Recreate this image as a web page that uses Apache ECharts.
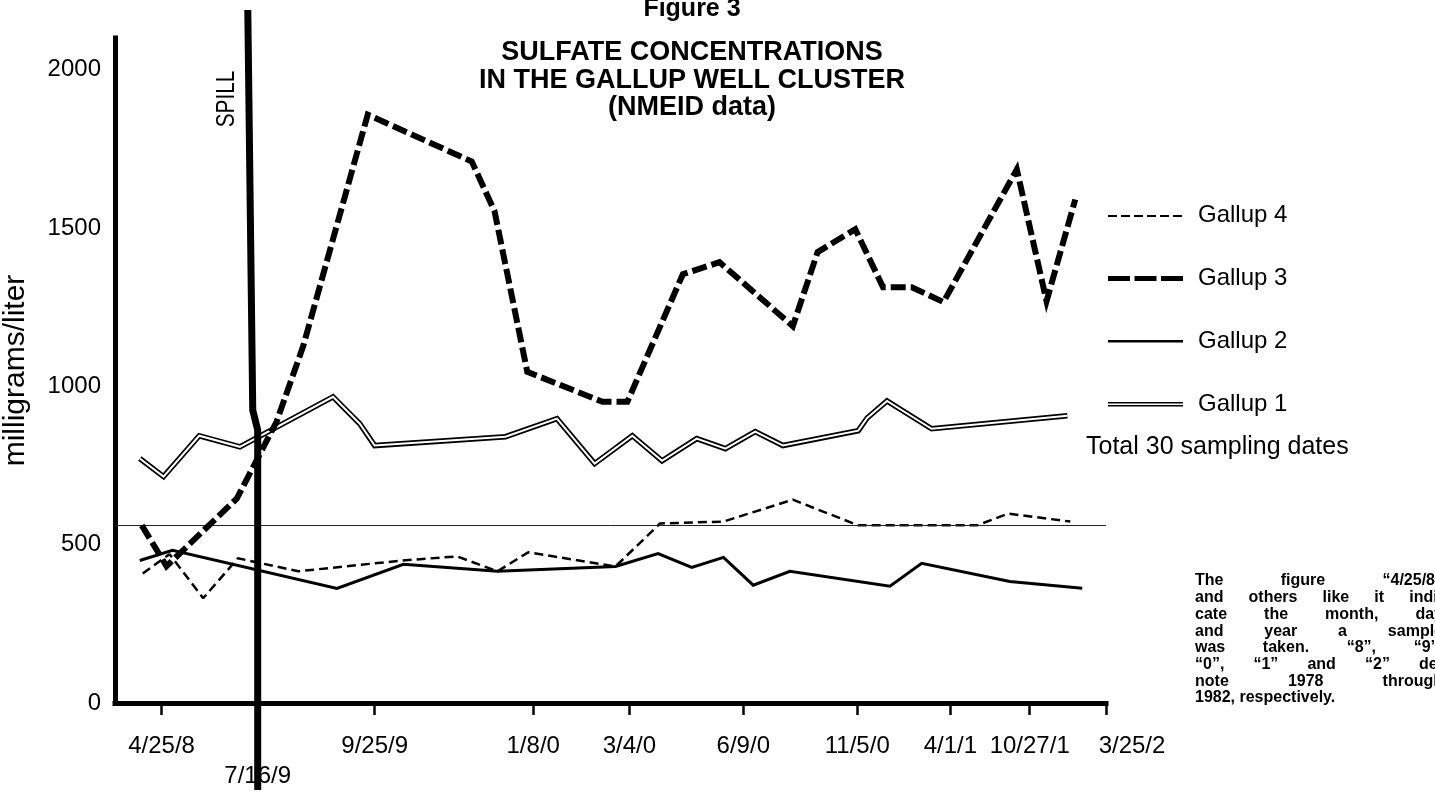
<!DOCTYPE html>
<html><head><meta charset="utf-8">
<script src="https://cdn.jsdelivr.net/npm/echarts@6/dist/echarts.min.js"></script>
<style>html,body{margin:0;padding:0;background:#fff}#c{width:1435px;height:796px}</style>
</head><body><div id="c"></div>
<script>
// x positions are in "axis units" (0 = y axis, 100 = right end of x axis)
const tickPositions = [4.7, 14.4, 26.2, 42.2, 51.9, 63.4, 74.9, 84.3, 92.3, 100];
const tickLabels = ['4/25/8', '7/16/9', '9/25/9', '1/8/0', '3/4/0', '6/9/0', '11/5/0', '4/1/1', '10/27/1', '3/25/2'];
const yTicks = [0, 500, 1000, 1500, 2000];

const gallup1 = [[2.5,772],[4.9,715],[8.5,844],[12.6,809],[22.0,967],[24.7,882],[26.2,813],[39.4,841],[44.6,898],[48.4,756],[52.2,844],[55.2,765],[58.7,835],[61.6,803],[64.6,857],[67.4,813],[75.0,860],[75.9,900],[77.9,954],[82.4,866],[96.1,907]];
const gallup2 = [[2.5,450],[5.8,482],[22.4,362],[29.1,438],[38.6,416],[50.5,431],[54.8,472],[58.2,428],[61.4,460],[64.4,372],[68.1,416],[78.2,369],[81.4,441],[90.3,384],[97.6,362]];
const gallup3 = [[2.7,561],[5.2,432],[12.3,646],[16.3,888],[19.0,1128],[25.5,1858],[36.0,1710],[38.3,1553],[41.6,1046],[49.2,951],[51.7,951],[57.3,1354],[61.0,1392],[68.4,1190],[70.9,1424],[74.7,1496],[77.5,1313],[80.4,1313],[83.6,1266],[91.0,1685],[94.0,1269],[96.9,1590]];
const gallup4 = [[2.8,409],[5.5,470],[8.9,331],[12.4,457],[18.5,416],[29.0,450],[34.5,463],[38.6,416],[41.7,476],[50.5,431],[55.0,567],[61.4,573],[68.4,642],[75.0,561],[87.0,561],[90.1,598],[96.4,573]];
const spillX = 14.4;
const spillLine = [[13.4,1],[13.9,0.487],[spillX,0.4615],[spillX,0]];
const scanLineValue = 560;

const annotation = [
  'The figure \u201c4/25/8\u201d',
  'and others like it indi-',
  'cate the month, day',
  'and year a sample',
  'was taken. \u201c8\u201d, \u201c9\u201d,',
  '\u201c0\u201d, \u201c1\u201d and \u201c2\u201d de-',
  'note 1978 through',
  '1982, respectively.'
];

const FF = '"Liberation Sans", Arial, Helvetica, sans-serif';
const chart = echarts.init(document.getElementById('c'), null, {renderer: 'canvas'});

// justified paragraph (each word placed as real text)
const noteFont = 'bold 16px ' + FF;
const noteLeft = 1195, noteWidth = 248, noteTop = 581, notePitch = 16.7;
const mctx = document.createElement('canvas').getContext('2d');
mctx.font = noteFont;
const noteGraphics = [];
annotation.forEach(function (line, i) {
  const words = line.split(' ');
  const widths = words.map(function (w) { return mctx.measureText(w).width; });
  const total = widths.reduce(function (a, b) { return a + b; }, 0);
  const last = i === annotation.length - 1;
  const gap = (last || words.length < 2) ? mctx.measureText(' ').width : (noteWidth - total) / (words.length - 1);
  let x = noteLeft;
  words.forEach(function (w, k) {
    noteGraphics.push({type: 'text', x: x, y: noteTop + i * notePitch, silent: true,
      style: {text: w, font: noteFont, fill: '#000', align: 'left', verticalAlign: 'middle'}});
    x += widths[k] + gap;
  });
});

chart.setOption({
  animation: false,
  backgroundColor: '#fff',
  textStyle: {fontFamily: FF, color: '#000'},
  grid: [
    {left: 115, right: 329, top: 38, bottom: 93, containLabel: false, outerBoundsMode: 'none'},
    {left: 115, right: 329, top: 10, bottom: 6, containLabel: false, outerBoundsMode: 'none'}
  ],
  legend: {
    orient: 'vertical', left: 1103, top: 198, itemWidth: 75, itemHeight: 8, itemGap: 39,
    selectedMode: false,
    itemStyle: {borderWidth: 0},
    textStyle: {fontSize: 24, color: '#000', fontFamily: FF, padding: [0, 0, 0, 10]},
    data: [
      {name: 'Gallup 4', icon: 'path://M0,0M75,8M0,4h9v2h-9z M13,4h9v2h-9z M26,4h9v2h-9z M39,4h9v2h-9z M52,4h9v2h-9z M65,4h9v2h-9z'},
      {name: 'Gallup 3', icon: 'path://M0,0M75,8M0,2h22v5h-22z M26.5,2h22v5h-22z M53,2h22v5h-22z'},
      {name: 'Gallup 2', icon: 'path://M0,0M75,8M0,3h75v2.5h-75z'},
      {name: 'Gallup 1', icon: 'path://M0,0M75,8M0,2h75v1.6h-75z M0,5h75v1.6h-75z'}
    ]
  },
  xAxis: [
    {
      type: 'value', min: 0, max: 100, gridIndex: 0,
      axisLine: {show: true, onZero: false, lineStyle: {color: '#000', width: 5, cap: 'square'}},
      axisTick: {show: true, customValues: tickPositions, length: 12, lineStyle: {color: '#000', width: 2.5}},
      splitLine: {show: false},
      axisLabel: {
        customValues: tickPositions, margin: 31, fontSize: 24, color: '#000', fontFamily: FF,
        formatter: function (v) {
          let i = -1;
          tickPositions.forEach(function (p, k) { if (Math.abs(p - v) < 1e-6) i = k; });
          if (i < 0) return '';
          const t = tickLabels[i];
          if (i === 1) return '{low|' + t + '}';
          if (i === tickLabels.length - 1) return '{r|' + t + '}';
          return t;
        },
        rich: {
          low: {fontSize: 24, fontFamily: FF, color: '#000', padding: [30, 0, 0, 0]},
          r: {fontSize: 24, fontFamily: FF, color: '#000', padding: [0, 0, 0, 52]}
        }
      }
    },
    {type: 'value', min: 0, max: 100, gridIndex: 1, show: false}
  ],
  yAxis: [
    {
      type: 'value', min: 0, max: 2100, interval: 500, gridIndex: 0,
      axisLine: {show: true, lineStyle: {color: '#000', width: 5, cap: 'square'}},
      axisTick: {show: false}, splitLine: {show: false},
      axisLabel: {
        margin: 14, fontSize: 24, color: '#000', fontFamily: FF,
        formatter: function (v) { return yTicks.indexOf(v) >= 0 ? String(v) : ''; }
      },
      name: 'milligrams/liter', nameLocation: 'middle', nameGap: 84,
      nameTextStyle: {fontSize: 30, color: '#000', fontFamily: FF}
    },
    {type: 'value', min: 0, max: 1, gridIndex: 1, show: false}
  ],
  series: [
    {
      name: 'Gallup 2', type: 'line', data: gallup2, symbol: 'none', silent: true,
      lineStyle: {color: '#000', width: 3, join: 'miter'}, itemStyle: {color: '#000'}, z: 2,
      markLine: {
        silent: true, symbol: 'none', label: {show: false},
        lineStyle: {color: '#222', width: 1, type: 'solid'},
        data: [{yAxis: scanLineValue}]
      }
    },
    {
      name: 'Gallup 4', type: 'line', data: gallup4, symbol: 'none', silent: true,
      lineStyle: {color: '#000', width: 2.5, type: [9, 5], cap: 'butt'}, itemStyle: {color: '#000'}, z: 2
    },
    {
      name: 'Gallup 1', type: 'line', data: gallup1, symbol: 'none', silent: true,
      lineStyle: {color: '#000', width: 5.5, join: 'miter'}, itemStyle: {color: '#000'}, z: 3
    },
    {
      name: 'Gallup 1 inner', type: 'line', data: gallup1, symbol: 'none', silent: true,
      lineStyle: {color: '#fff', width: 2, join: 'miter'}, itemStyle: {color: '#fff'}, z: 4
    },
    {
      name: 'Gallup 3', type: 'line', data: gallup3, symbol: 'none', silent: true,
      lineStyle: {color: '#000', width: 6, type: [15, 5], cap: 'butt', join: 'miter'}, itemStyle: {color: '#000'}, z: 5
    },
    {
      name: 'spill', type: 'line', xAxisIndex: 1, yAxisIndex: 1, data: spillLine, symbol: 'none', clip: false, silent: true,
      lineStyle: {color: '#000', width: 7}, z: 6
    }
  ],
  graphic: [
    {type: 'text', x: 692, y: 9, style: {text: 'Figure 3', font: 'bold 25px ' + FF, fill: '#000', align: 'center', verticalAlign: 'middle'}},
    {type: 'text', x: 692, y: 53, style: {text: 'SULFATE CONCENTRATIONS', font: 'bold 27px ' + FF, fill: '#000', align: 'center', verticalAlign: 'middle'}},
    {type: 'text', x: 692, y: 81, style: {text: 'IN THE GALLUP WELL CLUSTER', font: 'bold 27px ' + FF, fill: '#000', align: 'center', verticalAlign: 'middle'}},
    {type: 'text', x: 692, y: 108, style: {text: '(NMEID data)', font: 'bold 27px ' + FF, fill: '#000', align: 'center', verticalAlign: 'middle'}},
    {type: 'text', x: 227, y: 99, rotation: Math.PI / 2, scaleX: 0.8, style: {text: 'SPILL', font: '26px ' + FF, fill: '#000', align: 'center', verticalAlign: 'middle'}},
    {type: 'text', x: 1086, y: 447, style: {text: 'Total 30 sampling dates', font: '25px ' + FF, fill: '#000', align: 'left', verticalAlign: 'middle'}}
  ].concat(noteGraphics)
});
</script>
</body></html>
